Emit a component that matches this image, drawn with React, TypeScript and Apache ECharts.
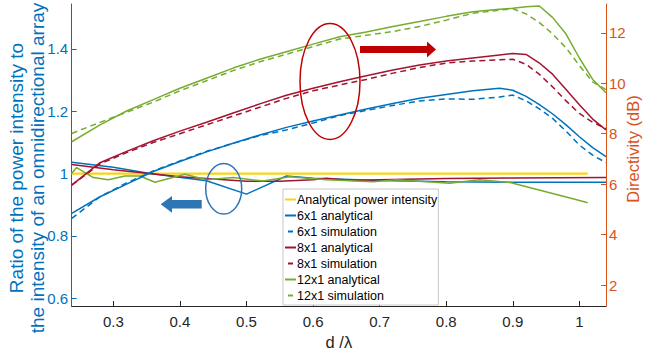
import React, { useEffect, useRef } from "react";
import * as echarts from "echarts";

// ---- Directivity (right axis, dB) ----
const dirX = [0.2375, 0.28, 0.32, 0.36, 0.40, 0.44, 0.48, 0.52, 0.56, 0.60, 0.64, 0.68, 0.72, 0.76, 0.80, 0.84, 0.88, 0.90, 0.92, 0.94, 0.96, 0.98, 1.00, 1.02, 1.04];
const dir6Ana = [4.84, 5.5, 6.0, 6.5, 6.9, 7.28, 7.62, 7.95, 8.25, 8.5, 8.74, 8.98, 9.2, 9.4, 9.55, 9.7, 9.8, 9.72, 9.48, 9.15, 8.78, 8.35, 7.88, 7.45, 7.09];
const dir6Sim = [4.64, 5.5, 6.05, 6.52, 6.92, 7.3, 7.62, 7.92, 8.15, 8.42, 8.72, 8.92, 9.12, 9.3, 9.38, 9.36, 9.45, 9.53, 9.3, 8.98, 8.6, 8.1, 7.55, 7.15, 6.85];
const dir8Ana = [5.96, 6.85, 7.3, 7.72, 8.1, 8.45, 8.82, 9.18, 9.52, 9.8, 10.06, 10.3, 10.52, 10.72, 10.88, 11.0, 11.12, 11.18, 11.14, 10.8, 10.35, 9.75, 9.15, 8.58, 8.15];
const dir8Sim = [5.96, 6.8, 7.25, 7.65, 8.0, 8.35, 8.7, 9.05, 9.4, 9.7, 9.93, 10.15, 10.4, 10.62, 10.8, 10.88, 10.93, 10.95, 10.75, 10.35, 9.85, 9.3, 8.8, 8.45, 8.2];
const dir12Ana = [7.68, 8.35, 8.9, 9.35, 9.8, 10.2, 10.6, 10.95, 11.25, 11.55, 11.84, 12.03, 12.25, 12.45, 12.65, 12.83, 12.93, 12.97, 13.03, 13.06, 12.6, 11.95, 11.0, 10.15, 9.62];
const dir12Sim = [8.01, 8.45, 8.85, 9.25, 9.7, 10.1, 10.5, 10.85, 11.15, 11.45, 11.75, 11.9, 12.05, 12.25, 12.5, 12.77, 12.9, 12.95, 12.75, 12.4, 11.95, 11.4, 10.7, 10.05, 9.75];

// ---- Ratio (left axis) ----
const analyticalX = [0.2375, 1.0125];
const analyticalY = [1, 1];
const ratio6X = [0.2375, 0.30, 0.355, 0.44, 0.50, 0.56, 0.60, 0.70, 0.80, 0.90, 1.04];
const ratio6Y = [1.036, 1.02, 1.0, 0.977, 0.934, 0.992, 0.985, 0.978, 0.974, 0.972, 0.972];
const ratio8X = [0.2375, 0.30, 0.40, 0.50, 0.55, 0.60, 0.62, 0.66, 0.70, 0.80, 0.90, 1.04];
const ratio8Y = [1.029, 1.012, 0.99, 0.975, 0.975, 0.98, 0.985, 0.978, 0.98, 0.984, 0.986, 0.987];
const ratio12X = [0.2375, 0.245, 0.27, 0.2925, 0.3175, 0.34, 0.3625, 0.4075, 0.44, 0.48, 0.525, 0.565, 0.62, 0.69, 0.725, 0.805, 0.85, 0.896, 0.996, 1.0125];
const ratio12Y = [1.001, 1.019, 0.987, 0.98, 0.992, 0.992, 0.972, 0.998, 0.98, 0.987, 0.976, 0.99, 0.98, 0.974, 0.98, 0.969, 0.98, 0.971, 0.916, 0.906];

const xTicks = [0.3, 0.4, 0.5, 0.6, 0.7, 0.8, 0.9, 1.0];
const leftTicks = [0.6, 0.8, 1.0, 1.2, 1.4];
const rightTicks = [2, 4, 6, 8, 10, 12];

const legendNames = [
  "Analytical power intensity",
  "6x1 analytical",
  "6x1 simulation",
  "8x1 analytical",
  "8x1 simulation",
  "12x1 analytical",
  "12x1 simulation",
];
const leftTitle = "Ratio of the power intensity to\nthe intensity of an omnidirectional array";
const rightTitle = "Directivity (dB)";
const xTitle = "d /λ";

const BLUE = "#0072BD";
const RED = "#A2142F";
const GREEN = "#77AC30";
const YELLOW = "#F7D417";
const ORANGE = "#D95319";
const FONT = "Liberation Sans, Arial, sans-serif";

const SOLID_ICON = "rect";
const DASH_ICON = "path://M0,0h0.01v0.01h-0.01z M3,0h5v2h-5z M10.99,1.99h0.01v0.01h-0.01z";

const zip = (xs: number[], ys: number[]) => xs.map((x, i) => [x, ys[i]]);

export default function App() {
  const ref = useRef<HTMLDivElement>(null);
  useEffect(() => {
    document.body.style.margin = "0";
    const chart = echarts.init(ref.current!, null, { renderer: "svg" });
    const line = (name: string, data: number[][], color: string, axis: number, dashed = false, width = 1.5) => ({
      name,
      type: "line",
      yAxisIndex: axis,
      data,
      symbol: "none",
      showSymbol: false,
      lineStyle: { color, width, type: dashed ? [6, 4] : "solid" },
      itemStyle: { color },
    });
    chart.setOption({
      animation: false,
      grid: { left: 71.7, right: 42, top: 4, bottom: 52, containLabel: false, outerBoundsMode: "none" },
      legend: {
        data: legendNames.map((n) => ({ name: n, icon: n.includes("simulation") ? DASH_ICON : SOLID_ICON })),
        orient: "vertical",
        left: 283,
        top: 189,
        itemWidth: 11,
        itemHeight: 2,
        itemGap: 3,
        padding: [4, 1, 3, 2],
        borderColor: "#c8c8c8",
        borderWidth: 1,
        backgroundColor: "#fff",
        itemStyle: { borderWidth: 0 },
        lineStyle: { width: 0 },
        textStyle: { fontSize: 12.5, lineHeight: 12.5, color: "#000", fontFamily: FONT, padding: [0, 0, 0, -4] },
      },
      xAxis: {
        type: "value",
        min: 0.2375,
        max: 1.04,
        name: xTitle,
        nameLocation: "middle",
        nameGap: 27,
        nameTextStyle: { fontSize: 16.5, color: "#262626", fontFamily: FONT },
        axisLine: { show: true, onZero: false, lineStyle: { color: "#262626", width: 1 } },
        axisTick: { show: true, inside: true, length: 5, customValues: xTicks, lineStyle: { color: "#262626" } },
        axisLabel: {
          customValues: xTicks,
          margin: 8,
          fontSize: 15,
          color: "#262626",
          fontFamily: FONT,
          formatter: (v: number) => String(+v.toFixed(1)),
        },
        splitLine: { show: false },
      },
      yAxis: [
        {
          type: "value",
          position: "left",
          min: 0.575,
          max: 1.544,
          axisLine: { show: true, lineStyle: { color: BLUE, width: 1 } },
          axisTick: { show: true, inside: true, length: 5, customValues: leftTicks, lineStyle: { color: BLUE } },
          axisLabel: {
            customValues: leftTicks,
            margin: 3.5,
            fontSize: 15,
            color: BLUE,
            fontFamily: FONT,
            formatter: (v: number) => String(+v.toFixed(1)),
          },
          splitLine: { show: false },
        },
        {
          type: "value",
          position: "right",
          min: 1.17,
          max: 13.14,
          axisLine: { show: true, lineStyle: { color: ORANGE, width: 1 } },
          axisTick: { show: true, inside: true, length: 5, customValues: rightTicks, lineStyle: { color: ORANGE } },
          axisLabel: {
            customValues: rightTicks,
            margin: 3,
            fontSize: 15,
            color: ORANGE,
            fontFamily: FONT,
          },
          splitLine: { show: false },
        },
      ],
      series: [
        line("Analytical power intensity", zip(analyticalX, analyticalY), YELLOW, 0, false, 2.2),
        line("6x1 analytical", zip(ratio6X, ratio6Y), BLUE, 0),
        line("8x1 analytical", zip(ratio8X, ratio8Y), RED, 0),
        line("12x1 analytical", zip(ratio12X, ratio12Y), GREEN, 0),
        line("6x1 analytical", zip(dirX, dir6Ana), BLUE, 1),
        line("6x1 simulation", zip(dirX, dir6Sim), BLUE, 1, true),
        line("8x1 analytical", zip(dirX, dir8Ana), RED, 1),
        line("8x1 simulation", zip(dirX, dir8Sim), RED, 1, true),
        line("12x1 analytical", zip(dirX, dir12Ana), GREEN, 1),
        line("12x1 simulation", zip(dirX, dir12Sim), GREEN, 1, true),
      ],
      graphic: [
        {
          type: "text",
          x: 26.5,
          y: 168,
          rotation: Math.PI / 2,
          style: {
            text: leftTitle,
            fill: BLUE,
            font: `19px ${FONT}`,
            lineHeight: 21,
            align: "center",
            verticalAlign: "middle",
          },
        },
        {
          type: "text",
          x: 633,
          y: 149,
          rotation: Math.PI / 2,
          style: {
            text: rightTitle,
            fill: ORANGE,
            font: `16.5px ${FONT}`,
            align: "center",
            verticalAlign: "middle",
          },
        },
        {
          type: "ellipse",
          shape: { cx: 330, cy: 81.5, rx: 30, ry: 58 },
          style: { fill: "none", stroke: "#C00000", lineWidth: 1.5 },
          z: 100,
        },
        {
          type: "polygon",
          shape: { points: [[360, 46], [427, 46], [427, 41.5], [436, 49.5], [427, 57.5], [427, 53], [360, 53]] },
          style: { fill: "#C00000" },
          z: 100,
        },
        {
          type: "ellipse",
          shape: { cx: 223.7, cy: 188.7, rx: 18, ry: 25.3 },
          style: { fill: "none", stroke: "#2E75B6", lineWidth: 1.5 },
          z: 100,
        },
        {
          type: "polygon",
          shape: { points: [[160.7, 204.3], [172, 196], [172, 200], [201.7, 200], [201.7, 208.5], [172, 208.5], [172, 212.7]] },
          style: { fill: "#2E75B6" },
          z: 100,
        },
      ],
    });
    return () => chart.dispose();
  }, []);
  return <div ref={ref} style={{ width: 648, height: 358 }} />;
}
